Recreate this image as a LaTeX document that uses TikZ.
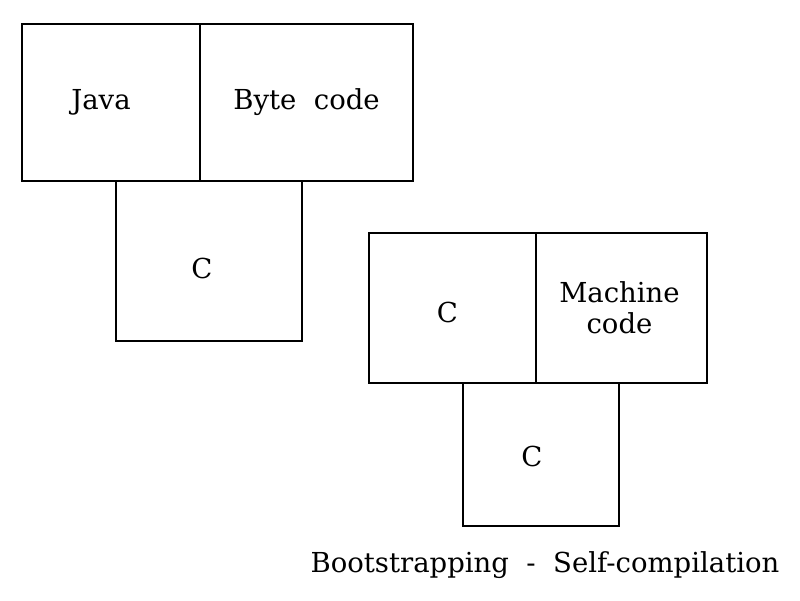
\documentclass[tikz,border=0pt]{standalone}
\usepackage{fontspec}
\setmainfont{DejaVu Serif}
\usepackage{tikz}
\usetikzlibrary{positioning}

\begin{document}
\begin{tikzpicture}[
  x=1pt, y=-1pt,
  cell/.style={rectangle, draw=black, line width=2pt, inner sep=0pt},
  txt/.style={font=\fontsize{27.5}{31}\selectfont, align=center},
  caption/.style={font=\fontsize{27.5}{31}\selectfont}
]
  \useasboundingbox (0,0) rectangle (800,600);

  % Java -> Byte code, written in C
  \node[cell, minimum width=178pt, minimum height=157pt,
        label={[txt, xshift=-10pt]center:Java}] (java) at (111,102.5) {};
  \node[cell, minimum width=213pt, minimum height=157pt,
        label={[txt]center:Byte\ \ code}] (byte) at (306.5,102.5) {};
  \node[cell, minimum width=186pt, minimum height=160pt,
        label={[txt, xshift=-7pt, yshift=-7pt]center:C}] (implA) at (209,261) {};

  % C -> Machine code, written in C
  \node[cell, minimum width=167pt, minimum height=150pt,
        label={[txt, xshift=-5pt, yshift=-4pt]center:C}] (srcC) at (452.5,308) {};
  \node[cell, minimum width=171pt, minimum height=150pt,
        label={[txt, xshift=-2pt]center:Machine\\code}] (mach) at (621.5,308) {};
  \node[cell, minimum width=156pt, minimum height=143pt,
        label={[txt, xshift=-9pt, yshift=-2pt]center:C}] (implB) at (541,454.5) {};

  \node[caption] (title) at (545,565) {Bootstrapping\ \ -\ \ Self-compilation};
\end{tikzpicture}
\end{document}
